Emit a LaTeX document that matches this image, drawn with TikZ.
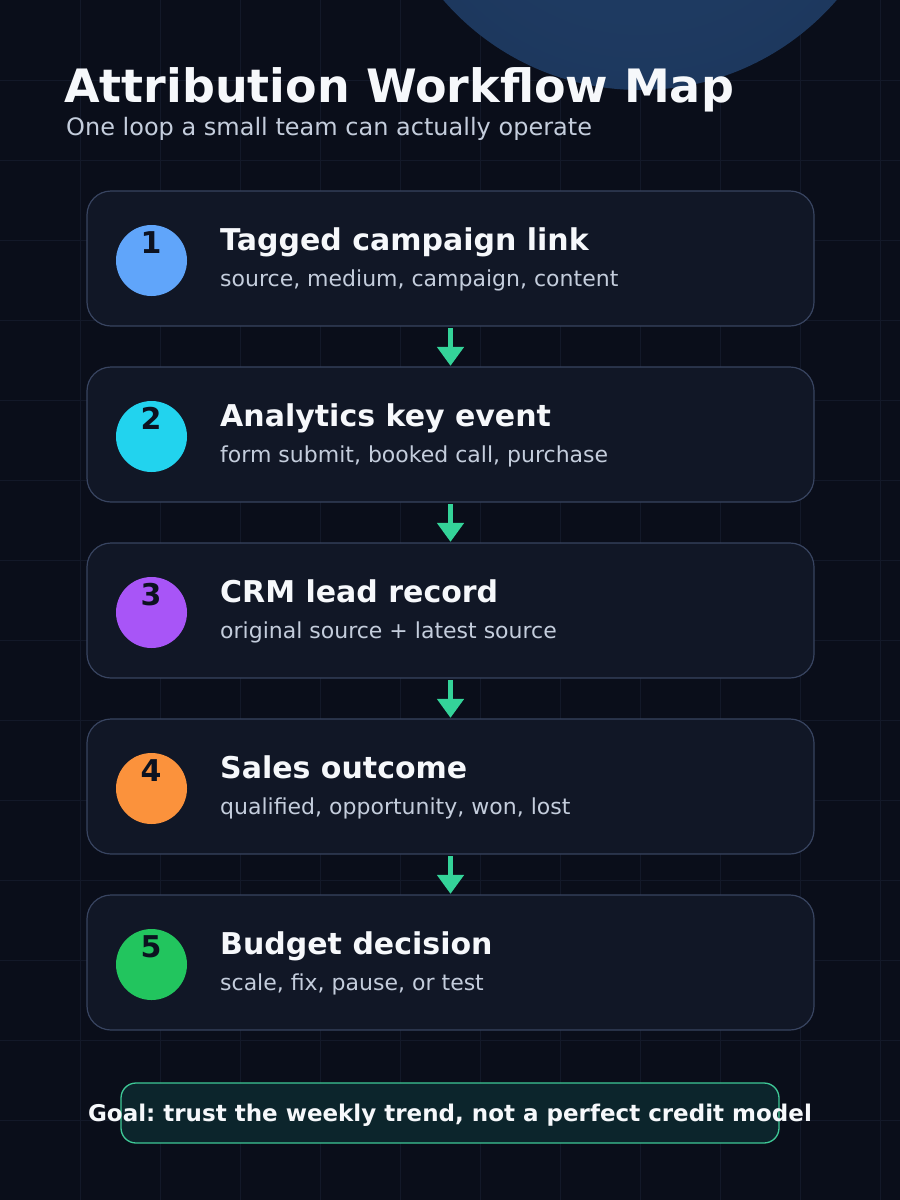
\documentclass[tikz,border=0pt]{standalone}
\usepackage{fontspec}
\setmainfont{DejaVu Sans}
\frenchspacing
\definecolor{bgc}{RGB}{10,14,26}
\definecolor{gridc}{RGB}{19,25,41}
\definecolor{boxfill}{RGB}{17,23,38}
\definecolor{boxline}{RGB}{56,68,96}
\definecolor{subc}{RGB}{196,205,220}
\definecolor{titlec}{RGB}{246,248,251}
\definecolor{arrowc}{RGB}{52,211,153}
\definecolor{goalfill}{RGB}{12,37,44}
\definecolor{goalline}{RGB}{62,200,150}
\definecolor{numc}{RGB}{12,18,32}
\definecolor{blobc}{RGB}{29,56,94}
\definecolor{blobin}{RGB}{33,63,104}
\definecolor{cone}{RGB}{96,165,250}
\definecolor{ctwo}{RGB}{34,211,238}
\definecolor{cthree}{RGB}{168,85,247}
\definecolor{cfour}{RGB}{251,146,60}
\definecolor{cfive}{RGB}{34,197,94}
\tikzset{
  stepbox/.style={draw=boxline, line width=1.2pt, fill=boxfill, rounded corners=24pt,
    minimum width=727pt, minimum height=135pt, inner sep=0pt},
  badge/.style={circle, minimum size=71pt, inner sep=0pt},
  numtext/.style={font=\fontsize{30}{30}\selectfont\bfseries, text=numc, anchor=base, inner sep=0pt},
  headtext/.style={font=\fontsize{30}{30}\selectfont\bfseries, text=titlec, anchor=base west, inner sep=0pt},
  desctext/.style={font=\fontsize{22}{22}\selectfont, text=subc, anchor=base west, inner sep=0pt},
  flowarrow/.style={draw=arrowc, line width=5pt, -{Triangle[width=26pt,length=19pt]}, shorten >=0.5pt, fill=arrowc},
}
\usetikzlibrary{arrows.meta}
\begin{document}
\begin{tikzpicture}[x=1pt,y=-1pt]
\useasboundingbox (0,0) rectangle (900,1200);
\fill[bgc] (0,0) rectangle (900,1200);
% grid
\foreach \gx in {80,160,...,880} {\draw[gridc, line width=1pt] (\gx,0) -- (\gx,1200);}
\foreach \gy in {80,160,...,1160} {\draw[gridc, line width=1pt] (0,\gy) -- (900,\gy);}
% top blob
\begin{scope}
\clip (0,0) rectangle (900,1200);
\shade[inner color=blobin, outer color=blobc] (640,-170) circle (260);
\end{scope}
% title
\node[font=\fontsize{46}{46}\selectfont\bfseries, text=titlec, anchor=base west, inner sep=0pt] (title) at (64,102) {Attribution Workflow Map};
\node[font=\fontsize{24}{24}\selectfont, text=subc, anchor=base west, inner sep=0pt] (subtitle) at (66,135) {One loop a small team can actually operate};
% steps
\foreach \i/\yy/\col/\head/\desc in {
  1/258.5/cone/Tagged campaign link/{source, medium, campaign, content},
  2/434.5/ctwo/Analytics key event/{form submit, booked call, purchase},
  3/610.5/cthree/CRM lead record/{original source + latest source},
  4/786.5/cfour/Sales outcome/{qualified, opportunity, won, lost},
  5/962.5/cfive/Budget decision/{scale, fix, pause, or test}} {
  \node[stepbox] (box\i) at (450.5,\yy) {};
  \node[badge, fill=\col] (badge\i) at (151.5,\yy+2) {};
  \node[numtext] (num\i) at (151,\yy-5.5) {\i};
  \node[headtext] (head\i) at (220,\yy-8.5) {\head};
  \node[desctext] (desc\i) at (220,\yy+28) {\desc};
}
% arrows
\foreach \a/\b in {1/2,2/3,3/4,4/5} {
  \draw[flowarrow] (box\a.south) ++(0,1.5) coordinate (s\a) (s\a) -- (box\b.north);
}
% goal
\node[draw=goalline, line width=1.3pt, fill=goalfill, rounded corners=15pt, minimum width=658pt, minimum height=60pt, inner sep=0pt] (goalbox) at (450,1113) {};
\node[font=\fontsize{23}{23}\selectfont\bfseries, text=titlec, anchor=base, inner sep=0pt] (goal) at (450,1121.5) {Goal: trust the weekly trend, not a perfect credit model};
\end{tikzpicture}
\end{document}
